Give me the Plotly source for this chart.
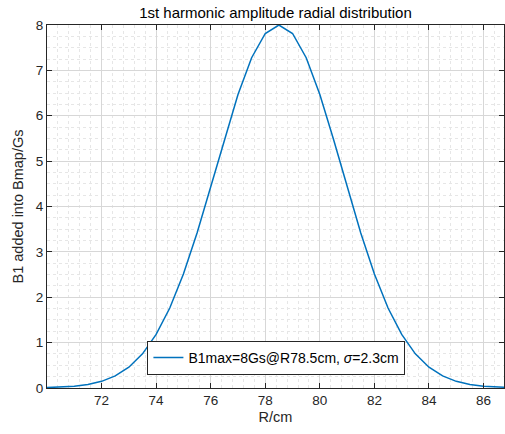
import plotly.graph_objects as go

r_cm = [70.0, 70.5, 71.0, 71.5, 72.0, 72.5, 73.0, 73.5, 74.0, 74.5, 75.0, 75.5,
        76.0, 76.5, 77.0, 77.5, 78.0, 78.5, 79.0, 79.5, 80.0, 80.5, 81.0, 81.5,
        82.0, 82.5, 83.0, 83.5, 84.0, 84.5, 85.0, 85.5, 86.0, 86.5, 87.0]
b1_gs = [0.009, 0.019, 0.039, 0.078, 0.147, 0.266, 0.458, 0.753, 1.180, 1.763,
         2.513, 3.417, 4.432, 5.481, 6.467, 7.279, 7.813, 8.000, 7.813, 7.279,
         6.467, 5.481, 4.432, 3.417, 2.513, 1.763, 1.180, 0.753, 0.458, 0.266,
         0.147, 0.078, 0.039, 0.019, 0.009]
x_ticks = [72, 74, 76, 78, 80, 82, 84, 86]
y_ticks = [0, 1, 2, 3, 4, 5, 6, 7, 8]

FONT = "Liberation Sans, Arial, sans-serif"
AX = "#262626"

W, H = 505, 434
L, T, R, B = 47, 25, 1, 46

fig = go.Figure()
fig.add_trace(go.Scatter(
    x=r_cm, y=b1_gs, mode="lines",
    line=dict(color="#0072BD", width=1.5),
    name="B1max=8Gs@R78.5cm, <i>σ</i>=2.3cm",
    showlegend=True,
))

axis_common = dict(
    showline=True, linecolor=AX, linewidth=1, mirror="ticks",
    ticks="inside", ticklen=5, tickcolor=AX, tickwidth=1,
    showgrid=True, gridcolor="#d7d7d7", gridwidth=1,
    zeroline=False,
    tickfont=dict(family=FONT, size=13.5, color=AX),
)

fig.update_xaxes(
    range=[70, 86.75], tickvals=x_ticks,
    title=dict(text="R/cm", font=dict(family=FONT, size=14.5, color=AX), standoff=4),
    minor=dict(dtick=0.4, tick0=70, showgrid=True, gridcolor="#e6e6e6",
               griddash="dot", gridwidth=1, ticks=""),
    **axis_common,
)
fig.update_yaxes(
    range=[0, 8], tickvals=y_ticks,
    title=dict(text="B1 added into Bmap/Gs", font=dict(family=FONT, size=14.5, color=AX), standoff=8),
    minor=dict(dtick=0.25, tick0=0, showgrid=True, gridcolor="#e6e6e6",
               griddash="dot", gridwidth=1, ticks=""),
    **axis_common,
)

fig.update_layout(
    width=W, height=H,
    margin=dict(l=L, r=R, t=T, b=B, pad=0),
    paper_bgcolor="white", plot_bgcolor="white",
    title=dict(text="1st harmonic amplitude radial distribution",
               font=dict(family=FONT, size=15, color="#000000"),
               x=((47 + 504) / 2) / W, xanchor="center",
               y=1 - 13 / H, yanchor="middle"),
    legend=dict(
        x=0.502, y=0.083, xanchor="center", yanchor="middle",
        bgcolor="white", bordercolor=AX, borderwidth=1,
        font=dict(family=FONT, size=14, color="#000000"),
        itemwidth=30, tracegroupgap=0,
    ),
    showlegend=True,
)

fig.write_html(
    "out.html",
    config={"displayModeBar": False},
    post_script="document.body.style.margin='0';document.body.style.padding='0';",
)
